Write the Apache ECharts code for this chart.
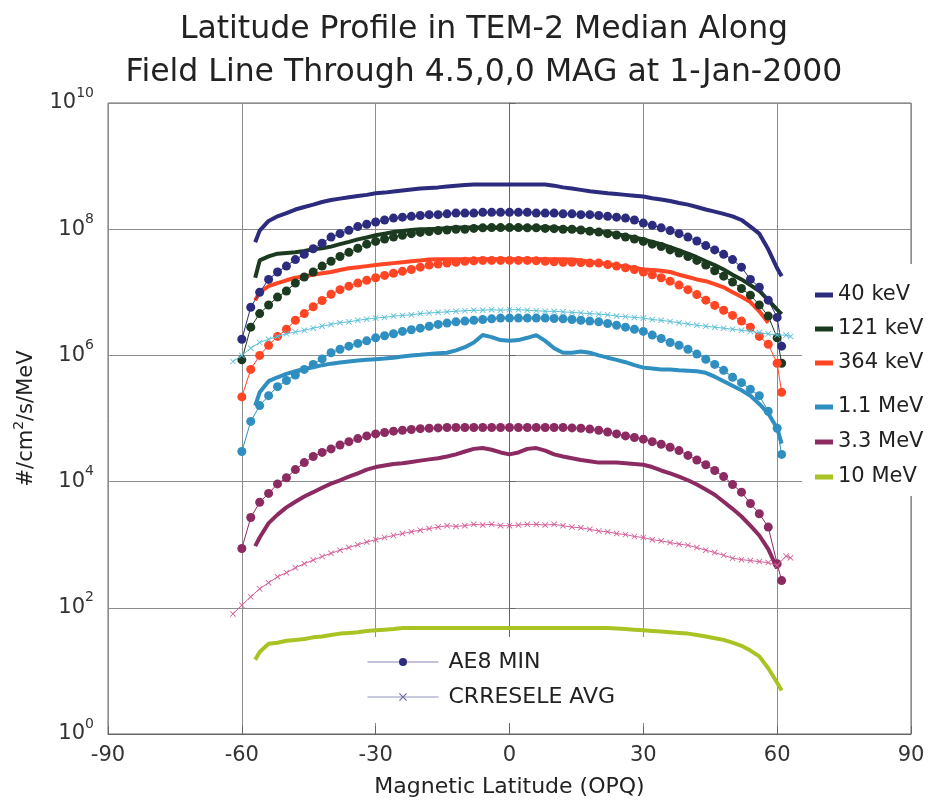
<!doctype html>
<html>
<head>
<meta charset="UTF-8">
<title>Latitude Profile in TEM-2 Median</title>
<script src="https://cdn.jsdelivr.net/npm/echarts@6/dist/echarts.min.js"></script>
<style>
  html, body { margin: 0; padding: 0; background: #fff; }
  #main { width: 936px; height: 803px; }
</style>
</head>
<body>
<div id="main"></div>
<script type="text/javascript">
// latitudes (deg) of the sampled points
var temLat = [-57, -56, -54, -52, -50, -48, -46, -44, -42, -40,
  -38, -36, -34, -32, -30, -28, -26, -24, -22, -20,
  -18, -16, -14, -12, -10, -8, -6, -4, -2, 0,
  2, 4, 6, 8, 10, 12, 14, 16, 18, 20,
  22, 24, 26, 28, 30, 32, 34, 36, 38, 40,
  42, 44, 46, 48, 50, 52, 54, 56, 58, 60,
  61];
var aeLat = [-60, -58, -56, -54, -52, -50, -48, -46, -44, -42,
  -40, -38, -36, -34, -32, -30, -28, -26, -24, -22,
  -20, -18, -16, -14, -12, -10, -8, -6, -4, -2,
  0, 2, 4, 6, 8, 10, 12, 14, 16, 18,
  20, 22, 24, 26, 28, 30, 32, 34, 36, 38,
  40, 42, 44, 46, 48, 50, 52, 54, 56, 58,
  60, 61];
var crLat = [-62, -60, -58, -56, -54, -52, -50, -48, -46, -44,
  -42, -40, -38, -36, -34, -32, -30, -28, -26, -24,
  -22, -20, -18, -16, -14, -12, -10, -8, -6, -4,
  -2, 0, 2, 4, 6, 8, 10, 12, 14, 16,
  18, 20, 22, 24, 26, 28, 30, 32, 34, 36,
  38, 40, 42, 44, 46, 48, 50, 52, 54, 56,
  58, 60, 62, 63];

// TEM-2 median (thick lines)
var tem40 = [6.2e7, 9.5e7, 1.35e8, 1.6e8, 1.8e8, 2.05e8, 2.25e8, 2.45e8, 2.7e8, 2.9e8,
  3.05e8, 3.2e8, 3.35e8, 3.5e8, 3.7e8, 3.8e8, 3.95e8, 4.1e8, 4.25e8, 4.4e8,
  4.5e8, 4.6e8, 4.75e8, 4.9e8, 5.0e8, 5.1e8, 5.1e8, 5.1e8, 5.1e8, 5.1e8,
  5.1e8, 5.1e8, 5.1e8, 5.1e8, 4.9e8, 4.6e8, 4.4e8, 4.2e8, 4.0e8, 3.85e8,
  3.7e8, 3.6e8, 3.5e8, 3.4e8, 3.3e8, 3.1e8, 2.95e8, 2.8e8, 2.6e8, 2.45e8,
  2.25e8, 2.05e8, 1.9e8, 1.75e8, 1.6e8, 1.4e8, 1.1e8, 8.5e7, 4.8e7, 2.4e7,
  1.8e7];
var tem121 = [1.7e7, 3.2e7, 3.7e7, 4.1e7, 4.2e7, 4.3e7, 4.5e7, 4.8e7, 5.0e7, 5.3e7,
  5.8e7, 6.3e7, 6.9e7, 7.4e7, 8.0e7, 8.5e7, 9.0e7, 9.4e7, 9.7e7, 1.0e8,
  1.0e8, 1.02e8, 1.04e8, 1.06e8, 1.06e8, 1.06e8, 1.06e8, 1.06e8, 1.06e8, 1.06e8,
  1.06e8, 1.06e8, 1.06e8, 1.06e8, 1.05e8, 1.03e8, 1.0e8, 9.8e7, 9.5e7, 9.2e7,
  8.8e7, 8.3e7, 7.9e7, 7.4e7, 6.9e7, 6.3e7, 5.8e7, 5.2e7, 4.6e7, 4.1e7,
  3.6e7, 3.1e7, 2.7e7, 2.3e7, 1.9e7, 1.6e7, 1.3e7, 1.05e7, 7.5e6, 5.3e6,
  4.5e6];
var tem364 = [7.5e6, 1.0e7, 1.25e7, 1.4e7, 1.55e7, 1.7e7, 1.8e7, 1.9e7, 2.0e7, 2.1e7,
  2.25e7, 2.4e7, 2.5e7, 2.6e7, 2.7e7, 2.8e7, 2.9e7, 3.0e7, 3.1e7, 3.2e7,
  3.3e7, 3.35e7, 3.35e7, 3.35e7, 3.35e7, 3.35e7, 3.35e7, 3.35e7, 3.35e7, 3.35e7,
  3.35e7, 3.35e7, 3.35e7, 3.35e7, 3.35e7, 3.35e7, 3.3e7, 3.2e7, 3.05e7, 2.9e7,
  2.8e7, 2.65e7, 2.55e7, 2.45e7, 2.3e7, 2.25e7, 2.2e7, 2.1e7, 1.9e7, 1.75e7,
  1.6e7, 1.5e7, 1.35e7, 1.2e7, 1.0e7, 8.5e6, 7.0e6, 5.0e6, 3.3e6, null,
  null];
var tem1100 = [1.6e5, 2.6e5, 3.9e5, 4.5e5, 5.1e5, 5.6e5, 6.1e5, 6.5e5, 7.0e5, 7.4e5,
  7.7e5, 8.0e5, 8.3e5, 8.5e5, 8.7e5, 8.9e5, 9.2e5, 9.6e5, 1.0e6, 1.02e6,
  1.05e6, 1.08e6, 1.1e6, 1.2e6, 1.35e6, 1.6e6, 2.1e6, 1.95e6, 1.75e6, 1.7e6,
  1.75e6, 1.9e6, 2.1e6, 1.7e6, 1.3e6, 1.1e6, 1.1e6, 1.15e6, 1.1e6, 1.0e6,
  9.2e5, 8.5e5, 7.8e5, 7.0e5, 6.4e5, 6.2e5, 6.0e5, 6.0e5, 5.8e5, 5.7e5,
  5.6e5, 5.3e5, 4.6e5, 3.9e5, 3.3e5, 2.8e5, 2.3e5, 1.7e5, 1.2e5, 7.0e4,
  4.0e4];
var tem3300 = [9.5e2, 1.3e3, 2.2e3, 3.0e3, 3.9e3, 4.8e3, 5.8e3, 6.8e3, 8.0e3, 9.3e3,
  1.05e4, 1.2e4, 1.35e4, 1.55e4, 1.7e4, 1.8e4, 1.9e4, 1.95e4, 2.05e4, 2.15e4,
  2.25e4, 2.35e4, 2.5e4, 2.7e4, 3.0e4, 3.3e4, 3.4e4, 3.2e4, 2.9e4, 2.7e4,
  2.9e4, 3.3e4, 3.4e4, 3.1e4, 2.7e4, 2.5e4, 2.35e4, 2.2e4, 2.1e4, 2.0e4,
  2.0e4, 2.0e4, 1.95e4, 1.9e4, 1.85e4, 1.7e4, 1.5e4, 1.35e4, 1.2e4, 1.05e4,
  9.0e3, 7.5e3, 6.2e3, 4.8e3, 3.7e3, 2.8e3, 2.0e3, 1.4e3, 8.5e2, 4.2e2,
  null];
var tem10000 = [15, 20, 27, 28, 30, 31, 32, 34, 35, 37,
  39, 40, 41, 43, 44, 45, 46, 48, 48, 48,
  48, 48, 48, 48, 48, 48, 48, 48, 48, 48,
  48, 48, 48, 48, 48, 48, 48, 48, 48, 48,
  48, 47, 46, 45, 44, 43, 42, 41, 40, 39,
  37, 35, 33, 31, 28, 25, 21, 17, 11, 6.5,
  4.9];

// AE8 MIN (dots)
var ae40 = [1.8e6, 5.8e6, 1.0e7, 1.6e7, 2.1e7, 2.6e7, 3.3e7, 4.0e7, 4.9e7, 6.0e7,
  7.5e7, 8.5e7, 9.6e7, 1.1e8, 1.2e8, 1.3e8, 1.4e8, 1.5e8, 1.55e8, 1.6e8,
  1.65e8, 1.7e8, 1.7e8, 1.75e8, 1.8e8, 1.8e8, 1.8e8, 1.85e8, 1.85e8, 1.85e8,
  1.85e8, 1.85e8, 1.85e8, 1.8e8, 1.8e8, 1.8e8, 1.75e8, 1.75e8, 1.7e8, 1.7e8,
  1.65e8, 1.6e8, 1.55e8, 1.5e8, 1.4e8, 1.25e8, 1.15e8, 1.05e8, 9.5e7, 8.5e7,
  7.5e7, 6.5e7, 5.5e7, 4.7e7, 4.0e7, 3.3e7, 2.5e7, 1.6e7, 1.2e7, 7.5e6,
  4.0e6, 1.4e6];
var ae121 = [8.5e5, 2.8e6, 4.6e6, 6.3e6, 8.4e6, 1.05e7, 1.4e7, 1.75e7, 2.1e7, 2.6e7,
  3.1e7, 3.7e7, 4.3e7, 5.0e7, 5.8e7, 6.4e7, 7.0e7, 7.5e7, 8.0e7, 8.5e7,
  8.9e7, 9.2e7, 9.5e7, 9.7e7, 1.0e8, 1.0e8, 1.03e8, 1.05e8, 1.06e8, 1.06e8,
  1.06e8, 1.06e8, 1.05e8, 1.05e8, 1.03e8, 1.02e8, 1.0e8, 1.0e8, 9.7e7, 9.3e7,
  9.0e7, 8.5e7, 8.1e7, 7.5e7, 7.0e7, 6.4e7, 5.8e7, 5.3e7, 4.7e7, 4.2e7,
  3.7e7, 3.2e7, 2.7e7, 2.2e7, 1.8e7, 1.45e7, 1.15e7, 9.0e6, 6.3e6, 4.2e6,
  1.9e6, 7.5e5];
var ae364 = [2.2e5, 6.0e5, 1.0e6, 1.45e6, 2.0e6, 2.6e6, 3.6e6, 4.6e6, 5.9e6, 7.4e6,
  9.3e6, 1.1e7, 1.25e7, 1.4e7, 1.55e7, 1.7e7, 1.85e7, 2.0e7, 2.15e7, 2.3e7,
  2.5e7, 2.7e7, 2.8e7, 2.9e7, 3.0e7, 3.1e7, 3.15e7, 3.2e7, 3.2e7, 3.2e7,
  3.2e7, 3.2e7, 3.2e7, 3.15e7, 3.1e7, 3.05e7, 3.0e7, 3.0e7, 2.95e7, 2.9e7,
  2.9e7, 2.75e7, 2.6e7, 2.45e7, 2.3e7, 2.1e7, 1.9e7, 1.7e7, 1.5e7, 1.3e7,
  1.1e7, 9.2e6, 7.5e6, 6.2e6, 5.2e6, 4.3e6, 3.5e6, 2.8e6, 2.0e6, 1.5e6,
  7.5e5, 2.6e5];
var ae1100 = [3.0e4, 9.0e4, 1.6e5, 2.3e5, 3.2e5, 4.0e5, 4.9e5, 6.0e5, 7.2e5, 8.8e5,
  1.1e6, 1.25e6, 1.4e6, 1.55e6, 1.7e6, 1.9e6, 2.05e6, 2.2e6, 2.4e6, 2.55e6,
  2.7e6, 2.9e6, 3.1e6, 3.25e6, 3.4e6, 3.5e6, 3.6e6, 3.7e6, 3.8e6, 3.9e6,
  3.9e6, 3.9e6, 3.9e6, 3.9e6, 3.9e6, 3.85e6, 3.8e6, 3.7e6, 3.6e6, 3.5e6,
  3.4e6, 3.2e6, 3.0e6, 2.8e6, 2.6e6, 2.4e6, 2.1e6, 1.85e6, 1.6e6, 1.45e6,
  1.25e6, 1.05e6, 8.7e5, 7.2e5, 5.8e5, 4.5e5, 3.7e5, 2.9e5, 2.3e5, 1.3e5,
  7.0e4, 2.7e4];
var ae3300 = [8.7e2, 2.7e3, 4.7e3, 6.5e3, 9.2e3, 1.15e4, 1.55e4, 2.0e4, 2.5e4, 2.9e4,
  3.3e4, 3.8e4, 4.3e4, 4.8e4, 5.3e4, 5.7e4, 6.0e4, 6.3e4, 6.5e4, 6.7e4,
  6.9e4, 7.0e4, 7.1e4, 7.2e4, 7.2e4, 7.2e4, 7.2e4, 7.2e4, 7.2e4, 7.2e4,
  7.2e4, 7.2e4, 7.2e4, 7.2e4, 7.2e4, 7.2e4, 7.2e4, 7.1e4, 7.0e4, 6.8e4,
  6.5e4, 6.1e4, 5.7e4, 5.3e4, 5.0e4, 4.7e4, 4.3e4, 3.9e4, 3.5e4, 3.1e4,
  2.6e4, 2.2e4, 1.85e4, 1.5e4, 1.2e4, 9.0e3, 6.8e3, 4.5e3, 3.1e3, 1.9e3,
  5.0e2, 2.7e2];

// CRRESELE AVG (x marks)
var cr1100 = [8.0e5, 1.0e6, 1.3e6, 1.6e6, 1.8e6, 2.0e6, 2.2e6, 2.35e6, 2.5e6, 2.7e6,
  2.9e6, 3.1e6, 3.3e6, 3.4e6, 3.6e6, 3.75e6, 3.9e6, 4.0e6, 4.2e6, 4.3e6,
  4.4e6, 4.6e6, 4.7e6, 4.8e6, 4.9e6, 5.0e6, 5.1e6, 5.2e6, 5.2e6, 5.3e6,
  5.2e6, 5.3e6, 5.3e6, 5.2e6, 5.1e6, 5.0e6, 5.0e6, 4.9e6, 4.8e6, 4.7e6,
  4.6e6, 4.5e6, 4.4e6, 4.2e6, 4.1e6, 4.0e6, 3.9e6, 3.7e6, 3.6e6, 3.45e6,
  3.3e6, 3.15e6, 3.0e6, 2.9e6, 2.8e6, 2.7e6, 2.6e6, 2.5e6, 2.4e6, 2.3e6,
  2.2e6, 2.1e6, 2.1e6, 2.0e6];
var cr3300 = [80, 110, 150, 200, 250, 310, 360, 430, 500, 570,
  650, 730, 820, 900, 1000, 1100, 1200, 1300, 1400, 1500,
  1600, 1700, 1800, 1900, 2000, 1950, 2000, 2100, 2050, 2100,
  2000, 2000, 2050, 2100, 2100, 2050, 2100, 2000, 1900, 1850,
  1750, 1650, 1600, 1500, 1450, 1350, 1300, 1200, 1150, 1080,
  1020, 980, 900, 820, 750, 680, 610, 580, 560, 540,
  520, 470, 660, 620];

var energyNames = ['40 keV', '121 keV', '364 keV', '1.1 MeV', '3.3 MeV', '10 MeV'];
var colors = ['#2c2b7e', '#1c3a20', '#ff4524', '#2f8fc0', '#8c2a62', '#a9c323'];
var FONT = 'DejaVu Sans';
var xMark = 'path://M1,0L5,4L9,0L10,1L6,5L10,9L9,10L5,6L1,10L0,9L4,5L0,1Z';

function pairs(lat, vals) {
  var out = [];
  for (var i = 0; i < lat.length; i++) {
    if (vals[i] != null) out.push([lat[i], vals[i]]);
  }
  return out;
}

function temLine(name, vals, color) {
  return {
    name: name, type: 'line', data: pairs(temLat, vals),
    showSymbol: false, z: 3,
    lineStyle: { width: 4, color: color }, itemStyle: { color: color }
  };
}
function aeDots(vals, color) {
  return {
    name: 'AE8 MIN', type: 'line', data: pairs(aeLat, vals),
    symbol: 'circle', symbolSize: 9, showAllSymbol: true, z: 4,
    lineStyle: { width: 1, color: color }, itemStyle: { color: color }
  };
}
function crLine(vals, color) {
  return {
    name: 'CRRESELE AVG', type: 'line', data: pairs(crLat, vals),
    symbol: xMark, symbolSize: 6, showAllSymbol: true, z: 5,
    lineStyle: { width: 1, color: color }, itemStyle: { color: color }
  };
}

var myChart = echarts.init(document.getElementById('main'));

var option = {
  animation: false,
  backgroundColor: '#fff',
  title: {
    text: 'Latitude Profile in TEM-2 Median Along\nField Line Through 4.5,0,0 MAG at 1-Jan-2000',
    left: 479, top: 3, textAlign: 'center',
    textStyle: { fontFamily: FONT, fontSize: 31.5, fontWeight: 'normal', color: '#222', lineHeight: 43 }
  },
  grid: { left: 108, right: 25, top: 103, bottom: 69, show: true, borderColor: '#666', borderWidth: 1 },
  legend: [{
    data: energyNames.slice(0, 3),
    orient: 'vertical', left: 802, top: 264,
    icon: 'rect', itemWidth: 18, itemHeight: 5, itemGap: 12,
    padding: [20, 20, 6, 13], backgroundColor: '#fff',
    textStyle: { fontFamily: FONT, fontSize: 21, color: '#222', lineHeight: 22 }
  }, {
    data: energyNames.slice(3),
    orient: 'vertical', left: 802, top: 380,
    icon: 'rect', itemWidth: 18, itemHeight: 5, itemGap: 13,
    padding: [16, 20, 8, 13], backgroundColor: '#fff',
    textStyle: { fontFamily: FONT, fontSize: 21, color: '#222', lineHeight: 22 }
  }, {
    data: [
      { name: 'AE8 MIN', itemStyle: { color: '#2c2b7e' }, lineStyle: { color: '#8585b5', width: 1 } },
      { name: 'CRRESELE AVG', itemStyle: { color: '#6a6aa5' }, lineStyle: { color: '#9090c0', width: 1 } }
    ],
    orient: 'vertical', left: 365, top: 637,
    itemWidth: 71, itemHeight: 10, itemGap: 13,
    padding: [14, 34, 15, 2], backgroundColor: '#fff',
    textStyle: { fontFamily: FONT, fontSize: 22, color: '#222', lineHeight: 22, padding: [0, 0, 0, 5] }
  }],
  xAxis: {
    type: 'value', min: -90, max: 90, interval: 30,
    name: 'Magnetic Latitude (OPQ)', nameLocation: 'middle', nameGap: 42,
    nameTextStyle: { fontFamily: FONT, fontSize: 22, color: '#222' },
    axisLine: { show: true, lineStyle: { color: '#666' } },
    axisTick: { show: true, inside: true, length: 8, lineStyle: { color: '#666' } },
    axisLabel: { fontFamily: FONT, fontSize: 21, color: '#333', margin: 11 },
    splitLine: { show: true, lineStyle: { color: '#8c8c8c', width: 1 } }
  },
  yAxis: {
    type: 'log', logBase: 100, min: 1, max: 1e10,
    name: '{a|#/cm}{s|2}{a|/s/MeV}', nameLocation: 'middle', nameGap: 66,
    nameTextStyle: {
      rich: {
        a: { fontFamily: FONT, fontSize: 21, color: '#222', lineHeight: 30 },
        s: { fontFamily: FONT, fontSize: 14, color: '#222', lineHeight: 14, verticalAlign: 'top' }
      }
    },
    axisLine: { show: true, lineStyle: { color: '#666' } },
    axisTick: { show: true, inside: true, length: 6, lineStyle: { color: '#666' } },
    axisLabel: {
      margin: 14,
      formatter: function (v) { return '{b|10}{e|' + Math.round(Math.log10(v)) + '}'; },
      rich: {
        b: { fontFamily: FONT, fontSize: 21, color: '#333', lineHeight: 34 },
        e: { fontFamily: FONT, fontSize: 14, color: '#333', lineHeight: 14, verticalAlign: 'top' }
      }
    },
    splitLine: { show: true, lineStyle: { color: '#8c8c8c', width: 1 } }
  },
  series: [
    temLine(energyNames[0], tem40, colors[0]),
    temLine(energyNames[1], tem121, colors[1]),
    temLine(energyNames[2], tem364, colors[2]),
    temLine(energyNames[3], tem1100, colors[3]),
    temLine(energyNames[4], tem3300, colors[4]),
    temLine(energyNames[5], tem10000, colors[5]),
    aeDots(ae40, colors[0]),
    aeDots(ae121, colors[1]),
    aeDots(ae364, colors[2]),
    aeDots(ae1100, colors[3]),
    aeDots(ae3300, colors[4]),
    crLine(cr1100, '#5cc0d8'),
    crLine(cr3300, '#d4609a')
  ]
};
myChart.setOption(option);
</script>
</body>
</html>
